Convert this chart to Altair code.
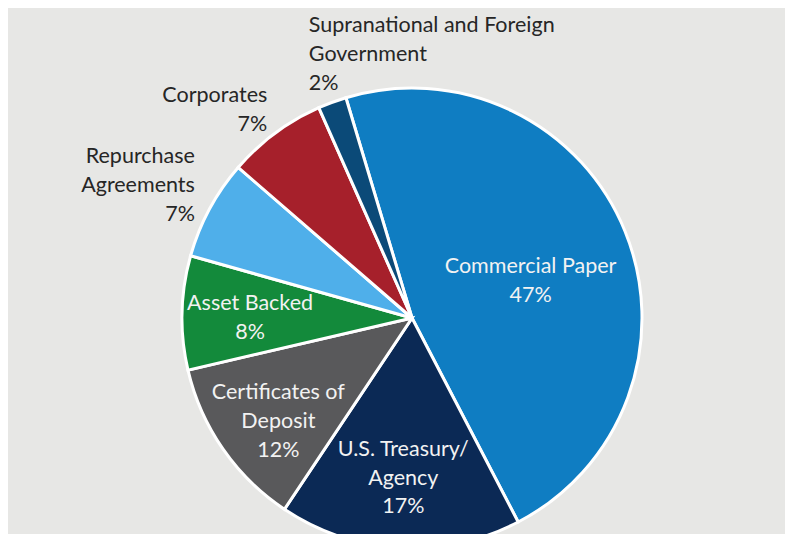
import math
import altair as alt
import pandas as pd

categories = ["Commercial Paper", "U.S. Treasury/Agency", "Certificates of Deposit",
              "Asset Backed", "Repurchase Agreements", "Corporates",
              "Supranational and Foreign Government"]
display = ["Commercial Paper", "U.S. Treasury/\nAgency", "Certificates of\nDeposit",
           "Asset Backed", "Repurchase\nAgreements", "Corporates",
           "Supranational and Foreign\nGovernment"]
shares = [47, 17, 12, 8, 7, 7, 2]
colors = ["#0F7DC2", "#0B2955", "#59595B", "#138A3B", "#4FAFEA", "#A6202B", "#0B4A78"]

df = pd.DataFrame({"order": list(range(len(categories))), "category": categories,
                   "display": display, "share": shares})

start = -math.radians(16.7)
theta_scale = alt.Scale(domain=[0, 100], range=[start, start + 2 * math.pi])
color_scale = alt.Scale(domain=categories, range=colors)

base = (alt.Chart(df)
        .transform_window(cum="sum(share)", sort=[{"field": "order"}])
        .transform_calculate(start="datum.cum - datum.share",
                             mid="datum.cum - datum.share / 2",
                             txt="datum.display + '\\n' + datum.share + '%'"))

arcs = base.mark_arc(outerRadius=230, stroke="white", strokeWidth=3).encode(
    theta=alt.Theta("start:Q", scale=theta_scale, stack=False),
    theta2=alt.Theta2("cum:Q"),
    color=alt.Color("category:N", scale=color_scale, legend=None),
)

FONT = "Lato"


def label(cat, radius, dx, dy, align, color):
    return base.transform_filter(alt.datum.category == cat).mark_text(
        radius=radius, dx=dx, dy=dy, align=align, baseline="middle",
        lineBreak="\n", font=FONT, fontSize=21.5, lineHeight=28.8, color=color,
    ).encode(
        theta=alt.Theta("mid:Q", scale=theta_scale, stack=False),
        text="txt:N",
    )


inner = "#F2F2F2"
outer = "#262626"
labels = [
    label("Commercial Paper", 128, 0, -3, "center", inner),
    label("U.S. Treasury/Agency", 161, 0, -29, "center", inner),
    label("Certificates of Deposit", 165, 2, -19, "center", inner),
    label("Asset Backed", 162, 0, -10, "center", inner),
    label("Repurchase Agreements", 250, 3, -42, "right", outer),
    label("Corporates", 250, 4, -21, "right", outer),
    label("Supranational and Foreign Government", 280, -6, -29, "left", outer),
]

chart = alt.layer(arcs, *labels).properties(
    width=746, height=432,
    autosize="none",
    padding={"left": 31, "top": 94, "right": 0, "bottom": 0},
    background="#E7E7E5",
).configure_view(stroke=None)

chart.save("out.html", embed_options={"renderer": "svg", "actions": False})
